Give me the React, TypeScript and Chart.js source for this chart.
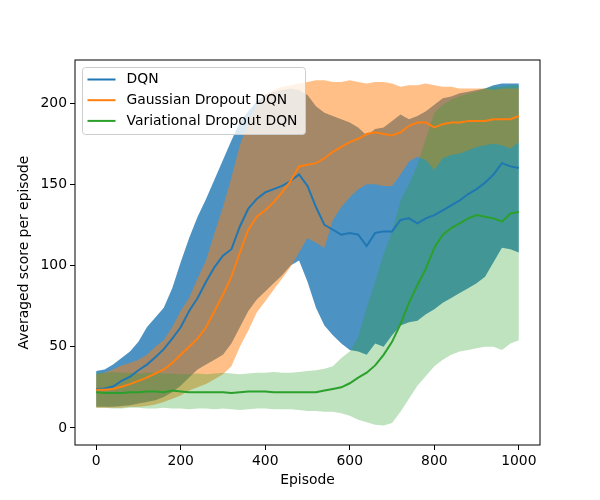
import { useEffect, useRef } from "react"
import Chart from "chart.js/auto"

// episodes sampled every 20
const episodes = [
  0, 20, 40, 60, 80, 100, 120, 140, 160, 180, 200, 220, 240, 260, 280, 300, 320, 340, 360, 380, 400,
  420, 440, 460, 480, 500, 520, 540, 560, 580, 600, 620, 640, 660, 680, 700, 720, 740, 760, 780, 800,
  820, 840, 860, 880, 900, 920, 940, 960, 980, 1000
]

const dqnMean = [
  24, 24.3, 25.5, 29, 31.5, 35.5, 39, 43.5, 48.5, 55, 62, 72, 80, 90, 99, 106, 110, 124, 135, 141, 145,
  147, 149, 152, 156, 149, 136, 125, 122, 119, 120, 119, 112, 120, 121, 121, 128, 129, 126, 129, 131,
  134, 137, 140, 144, 147, 151, 156, 163, 161, 160
]
const dqnUpper = [
  35, 36, 39, 43, 47, 53, 62, 68, 74, 86, 102, 117, 130, 141, 153, 165, 177, 188, 195, 201, 205,
  207, 208, 209, 208, 205, 198, 194, 192, 190, 188, 185, 180, 184, 185, 189, 193, 190, 192, 195, 199,
  203, 204, 206, 207, 208, 209, 211, 212, 212, 212
]
const dqnLower = [
  13, 13, 13, 13.5, 14, 15, 16, 17, 19, 22, 26, 31, 36, 39, 42, 45, 52, 62, 72, 79, 84,
  89, 94, 100, 103, 90, 74, 63, 57, 52, 48, 47, 45, 52, 50, 57, 63, 65, 66, 70, 73,
  77, 80, 83, 86, 89, 93, 102, 111, 110, 108
]

const gaussMean = [
  23.5, 23.5, 24, 25.4, 27, 29, 31, 33.5, 36, 40, 45, 50, 55, 62, 72, 82, 93, 108, 122, 130, 134,
  139, 145, 152, 161, 162, 163, 166, 170, 173, 176, 178, 181, 182, 181, 180, 182, 186, 188, 188, 185,
  187, 188, 188, 189, 189, 189, 190, 190, 190, 192
]
const gaussUpper = [
  33, 34, 36, 38.5, 40, 42, 45, 50, 54, 62, 72, 80, 92, 103, 120, 136, 154, 174, 188, 199, 205,
  208, 210, 211, 212, 213, 214, 214, 213, 213, 214, 213, 212, 213, 213, 212, 210, 211, 211, 212, 211,
  210, 210, 209, 209, 209, 209, 208, 209, 209, 209
]
const gaussLower = [
  12.5, 12.5, 12.5, 12.5, 13, 13, 13.5, 14.5, 16, 18, 20, 23, 25, 27, 30, 33, 38, 50, 60, 71, 78,
  85, 92, 99, 108, 117, 114, 111, 128, 136, 142, 147, 150, 150, 149, 149, 156, 164, 167, 165, 159,
  166, 168, 169, 171, 173, 174, 175, 174, 172, 176
]

const varMean = [
  22, 21.5, 21.5, 21.5, 22, 22, 22.5, 22.5, 22, 23, 22.5, 22, 22, 22, 22, 22, 21.5, 22, 22.5, 22.5, 22.5,
  22, 22, 22, 22, 22, 22, 23, 24, 25, 27.5, 31, 34, 38.5, 45, 53, 64, 77, 88, 98, 111,
  119, 123, 126, 129, 131, 130, 129, 127, 132, 133
]
const varUpper = [
  34, 34, 34.5, 34, 34, 33.5, 34, 34, 33.5, 33.5, 33, 33, 33.5, 33, 33.5, 34, 33.5, 33, 33.5, 34, 34,
  34.5, 34, 34, 34.5, 35, 35.5, 36.5, 38, 43, 47, 56, 74, 90, 107, 121, 140, 150, 162, 178, 194,
  199, 202, 204, 206, 207, 209, 210, 210, 211, 211
]
const varLower = [
  12.5, 12.5, 12, 12, 12.5, 12.5, 12, 12, 12.5, 12, 12, 11.5, 12, 12, 11.5, 12, 11.5, 11, 11.5, 12, 12,
  11.5, 11.5, 11.5, 11, 10.5, 10.5, 10, 10, 9, 7.5, 5, 3.5, 2, 1.5, 3, 10, 18, 26, 32, 38,
  42, 45, 47, 48, 49, 50, 50, 48, 52, 54
]

const xTicks = [0, 200, 400, 600, 800, 1000]
const yTicks = [0, 50, 100, 150, 200]

const seriesNames = ["DQN", "Gaussian Dropout DQN", "Variational Dropout DQN"]
const seriesColors = ["#1f77b4", "#ff7f0e", "#2ca02c"]

const FONT = "'DejaVu Sans'"
const FS = 13.9

const pts = (arr: number[]) => episodes.map((x, i) => ({ x, y: arr[i] }))

const framePlugin = {
  id: "frame",
  afterDatasetsDraw(chart: any) {
    const { ctx, chartArea: a } = chart
    ctx.save()
    ctx.strokeStyle = "#000"
    ctx.lineWidth = 1
    ctx.strokeRect(a.left, a.top, a.right - a.left, a.bottom - a.top)
    ctx.restore()
  }
}

const legendPlugin = {
  id: "boxLegend",
  afterDraw(chart: any) {
    const { ctx, chartArea: a } = chart
    const x = a.left + 7
    const y = a.top + 7
    const w = 223
    const h = 67
    ctx.save()
    ctx.beginPath()
    ctx.roundRect(x + 0.5, y + 0.5, w, h, 3)
    ctx.fillStyle = "rgba(255,255,255,0.8)"
    ctx.fill()
    ctx.strokeStyle = "#cccccc"
    ctx.lineWidth = 1
    ctx.stroke()
    ctx.font = `${FS}px ${FONT}`
    ctx.textBaseline = "middle"
    seriesNames.forEach((name, i) => {
      const ry = y + 12.5 + i * 20.7
      ctx.strokeStyle = seriesColors[i]
      ctx.lineWidth = 2
      ctx.beginPath()
      ctx.moveTo(x + 5.5, ry)
      ctx.lineTo(x + 33.5, ry)
      ctx.stroke()
      ctx.fillStyle = "#000"
      ctx.fillText(name, x + 44.5, ry)
    })
    ctx.restore()
  }
}

const App = () => {
  const chartRef = useRef<HTMLCanvasElement>(null)

  useEffect(() => {
    document.body.style.margin = "0"
    if (!chartRef.current) return
    const ctx = chartRef.current.getContext("2d")
    if (!ctx) return

    const line = (arr: number[], color: string, order: number) => ({
      data: pts(arr),
      borderColor: color,
      borderWidth: 2,
      pointRadius: 0,
      fill: false,
      order
    })
    const edge = (arr: number[], fill: any, bg: string, order: number) => ({
      data: pts(arr),
      borderWidth: 0,
      borderColor: "rgba(0,0,0,0)",
      backgroundColor: bg,
      pointRadius: 0,
      fill,
      order
    })

    const tickFont = { family: FONT, size: FS }

    const chart = new Chart(ctx, {
      type: "line",
      data: {
        datasets: [
          line(dqnMean, seriesColors[0], 2),
          line(gaussMean, seriesColors[1], 1),
          line(varMean, seriesColors[2], 0),
          edge(dqnUpper, 4, "rgba(31,119,180,0.8)", 5),
          edge(dqnLower, false, "rgba(0,0,0,0)", 5),
          edge(gaussUpper, 6, "rgba(255,127,14,0.5)", 4),
          edge(gaussLower, false, "rgba(0,0,0,0)", 4),
          edge(varUpper, 8, "rgba(44,160,44,0.3)", 3),
          edge(varLower, false, "rgba(0,0,0,0)", 3)
        ] as any
      },
      options: {
        animation: false,
        responsive: false,
        devicePixelRatio: 1,
        layout: { padding: { top: 60, right: 60, left: 0, bottom: 0 } },
        plugins: {
          legend: { display: false },
          tooltip: { enabled: false },
          filler: { drawTime: "beforeDatasetsDraw" }
        } as any,
        scales: {
          x: {
            type: "linear",
            min: -50,
            max: 1050,
            afterFit: (s: any) => {
              s.height = 55
            },
            afterBuildTicks: (s: any) => {
              s.ticks = xTicks.map((v) => ({ value: v }))
            },
            grid: { drawOnChartArea: false, drawTicks: true, tickLength: 5, color: "#000" },
            border: { display: false },
            ticks: {
              color: "#000",
              font: tickFont,
              padding: 3,
              maxRotation: 0,
              callback: (v: any) => String(v)
            },
            title: {
              display: true,
              text: "Episode",
              color: "#000",
              font: tickFont,
              padding: { top: 0, bottom: 11.5 }
            }
          },
          y: {
            type: "linear",
            min: -10.5,
            max: 226.5,
            afterFit: (s: any) => {
              s.width = 75
            },
            afterBuildTicks: (s: any) => {
              s.ticks = yTicks.map((v) => ({ value: v }))
            },
            grid: { drawOnChartArea: false, drawTicks: true, tickLength: 5, color: "#000" },
            border: { display: false },
            ticks: { color: "#000", font: tickFont, padding: 3, callback: (v: any) => String(v) },
            title: {
              display: true,
              text: "Averaged score per episode",
              color: "#000",
              font: tickFont,
              padding: { top: 16.5, bottom: 0 }
            }
          }
        }
      },
      plugins: [framePlugin, legendPlugin]
    })

    return () => {
      chart.destroy()
    }
  }, [])

  return (
    <div style={{ width: 600, height: 500 }}>
      <canvas ref={chartRef} width="600" height="500" style={{ display: "block" }}></canvas>
    </div>
  )
}

export default App
